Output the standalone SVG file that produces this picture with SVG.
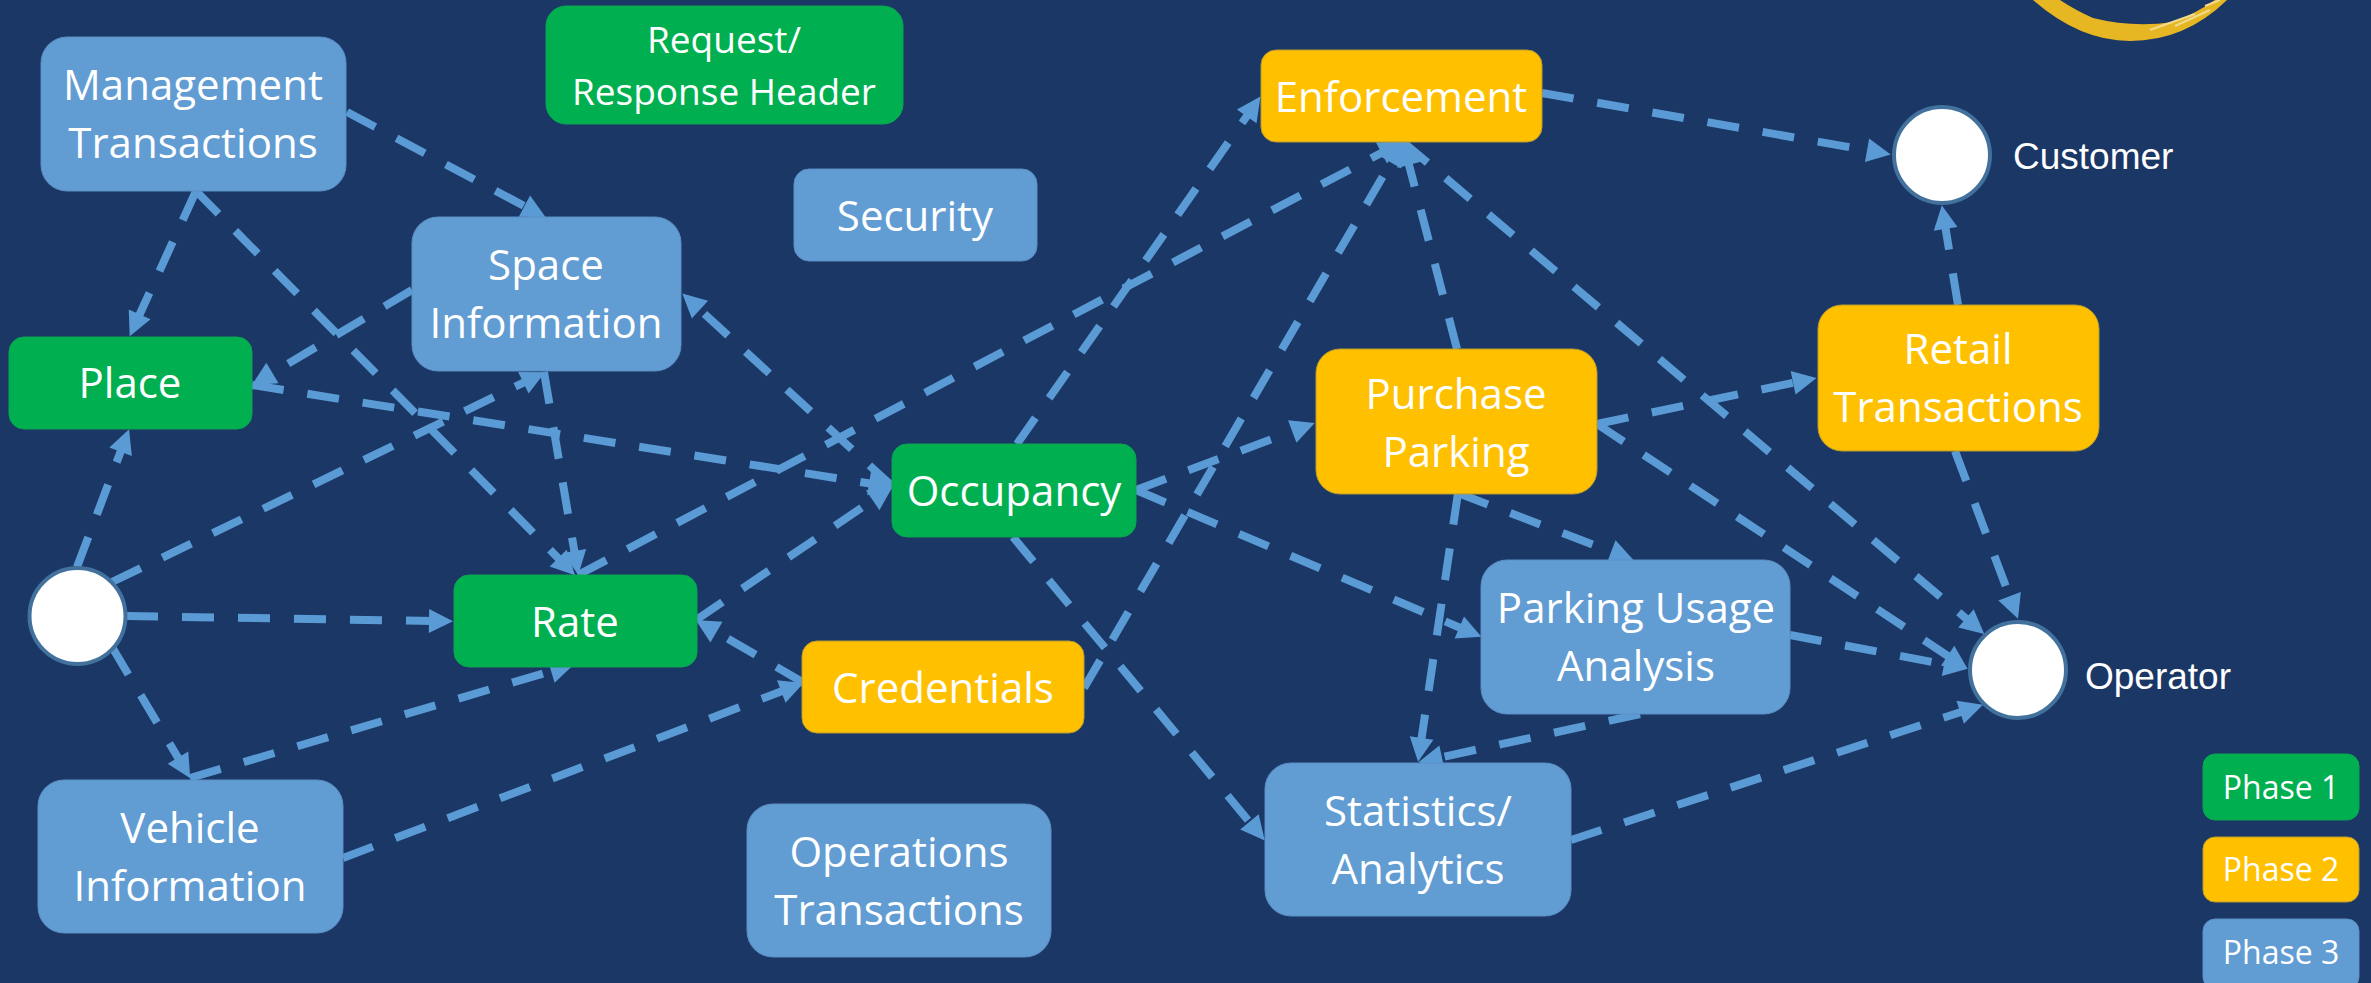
<svg xmlns="http://www.w3.org/2000/svg" width="2371" height="983" viewBox="0 0 2371 983">
<style>
.c{stroke:#5B9BD5;stroke-width:8;stroke-dasharray:32 24;fill:none;marker-end:url(#a)}
.b rect{fill:#619CD3;stroke:#5B8FC4;stroke-width:1}
.g rect{fill:#00B050;stroke:#0AA550;stroke-width:1}
.y rect{fill:#FFC000;stroke:#B89A2E;stroke-width:1}
text{font-family:"Open Sans","Noto Sans","Liberation Sans",sans-serif;fill:#fff;font-size:42px;text-anchor:middle}
.s text{font-size:37px}
.l text{font-size:32px}
.o{fill:#fff;stroke:#41719C;stroke-width:4}
text.a{font-family:"Liberation Sans",Arial,sans-serif;font-size:37px;text-anchor:start}
</style>
<defs>
<marker id="a" markerUnits="userSpaceOnUse" markerWidth="24" markerHeight="24" viewBox="0 0 24 24" refX="4" refY="12" orient="auto" overflow="visible"><path d="M0,0L24,12L0,24Z" fill="#5B9BD5"/></marker>
</defs>
<rect width="2371" height="983" fill="#1B3766"/>
<g id="logo">
<path d="M2033,0Q2080,41 2130,41Q2185,41 2227,0L2215,0Q2195,14 2173,22Q2133,28 2093,18Q2075,10 2060,0Z" fill="#E6B722"/>
<path d="M2150,30L2195,14M2175,26L2210,10M2205,6L2220,0" stroke="#F0DB8F" stroke-width="2" fill="none"/>
</g>
<g id="connectors">
<line class="c" x1="347" y1="112" x2="528" y2="208"/>
<line class="c" x1="196" y1="191" x2="138" y2="318"/>
<line class="c" x1="196" y1="191" x2="561" y2="561"/>
<line class="c" x1="412" y1="290" x2="269" y2="375"/>
<line class="c" x1="252" y1="385" x2="873" y2="484"/>
<line class="c" x1="77" y1="567" x2="122" y2="448"/>
<line class="c" x1="112" y1="582" x2="527" y2="381"/>
<line class="c" x1="126" y1="616" x2="433" y2="621"/>
<line class="c" x1="112" y1="647" x2="180" y2="761"/>
<line class="c" x1="190" y1="778" x2="555" y2="670"/>
<line class="c" x1="343" y1="858" x2="785" y2="690"/>
<line class="c" x1="544" y1="372" x2="575" y2="555"/>
<line class="c" x1="578" y1="575" x2="1385" y2="151"/>
<line class="c" x1="696" y1="620" x2="876" y2="498"/>
<line class="c" x1="804" y1="683" x2="713" y2="630"/>
<line class="c" x1="893" y1="487" x2="697" y2="307"/>
<line class="c" x1="1017" y1="444" x2="1249" y2="113"/>
<line class="c" x1="1136" y1="490" x2="1296" y2="430"/>
<line class="c" x1="1136" y1="490" x2="1463" y2="629"/>
<line class="c" x1="1013" y1="537" x2="1252" y2="825"/>
<line class="c" x1="1084" y1="688" x2="1393" y2="159"/>
<line class="c" x1="1542" y1="93" x2="1871" y2="151"/>
<line class="c" x1="1457" y1="349" x2="1408" y2="161"/>
<line class="c" x1="1403" y1="142" x2="1969" y2="621"/>
<line class="c" x1="1597" y1="424" x2="1797" y2="382"/>
<line class="c" x1="1597" y1="424" x2="1951" y2="658"/>
<line class="c" x1="1458" y1="493" x2="1615" y2="553"/>
<line class="c" x1="1458" y1="493" x2="1421" y2="742"/>
<line class="c" x1="1640" y1="714" x2="1438" y2="758"/>
<line class="c" x1="1790" y1="635" x2="1948" y2="665"/>
<line class="c" x1="1958" y1="305" x2="1945" y2="225"/>
<line class="c" x1="1955" y1="451" x2="2011" y2="600"/>
<line class="c" x1="1571" y1="840" x2="1964" y2="711"/>
</g>
<g id="management" class="b"><rect x="41" y="37" width="305" height="154" rx="26"/><text x="193" y="100">Management</text><text x="193" y="158">Transactions</text></g>
<g id="request" class="g s"><rect x="546" y="6" width="357" height="118" rx="20"/><text x="724" y="53">Request/</text><text x="724" y="105">Response Header</text></g>
<g id="security" class="b"><rect x="794" y="169" width="243" height="92" rx="15"/><text x="915" y="231">Security</text></g>
<g id="space" class="b"><rect x="412" y="217" width="269" height="154" rx="26"/><text x="546" y="280">Space</text><text x="546" y="338">Information</text></g>
<g id="place" class="g"><rect x="9" y="337" width="243" height="92" rx="15"/><text x="130" y="398">Place</text></g>
<g id="rate" class="g"><rect x="454" y="575" width="243" height="92" rx="15"/><text x="575" y="637">Rate</text></g>
<g id="occupancy" class="g"><rect x="892" y="444" width="244" height="93" rx="15"/><text x="1014" y="506">Occupancy</text></g>
<g id="credentials" class="y"><rect x="802" y="641" width="282" height="92" rx="15"/><text x="943" y="703">Credentials</text></g>
<g id="vehicle" class="b"><rect x="38" y="780" width="305" height="153" rx="26"/><text x="190" y="843">Vehicle</text><text x="190" y="901">Information</text></g>
<g id="operations" class="b"><rect x="747" y="804" width="304" height="153" rx="26"/><text x="899" y="867">Operations</text><text x="899" y="925">Transactions</text></g>
<g id="enforcement" class="y"><rect x="1261" y="50" width="281" height="92" rx="15"/><text x="1401" y="112">Enforcement</text></g>
<g id="purchase" class="y"><rect x="1316" y="349" width="281" height="145" rx="24"/><text x="1456" y="409">Purchase</text><text x="1456" y="467">Parking</text></g>
<g id="retail" class="y"><rect x="1818" y="305" width="281" height="146" rx="24"/><text x="1958" y="364">Retail</text><text x="1958" y="422">Transactions</text></g>
<g id="usage" class="b"><rect x="1481" y="560" width="309" height="154" rx="26"/><text x="1636" y="623">Parking Usage</text><text x="1636" y="681">Analysis</text></g>
<g id="statistics" class="b"><rect x="1265" y="763" width="306" height="153" rx="26"/><text x="1418" y="826">Statistics/</text><text x="1418" y="884">Analytics</text></g>
<g id="source"><circle class="o" cx="77.500" cy="616" r="48"/></g>
<g id="customer"><circle class="o" cx="1942" cy="155" r="48"/><text class="a" x="2013" y="169">Customer</text></g>
<g id="operator"><circle class="o" cx="2018" cy="670" r="48"/><text class="a" x="2085" y="689">Operator</text></g>
<g id="phase1" class="g l"><rect x="2203" y="754" width="156" height="66" rx="12"/><text x="2281" y="799">Phase 1</text></g>
<g id="phase2" class="y l"><rect x="2203" y="837" width="156" height="65" rx="12"/><text x="2281" y="881">Phase 2</text></g>
<g id="phase3" class="b l"><rect x="2203" y="919" width="156" height="70" rx="12"/><text x="2281" y="964">Phase 3</text></g>
</svg>
